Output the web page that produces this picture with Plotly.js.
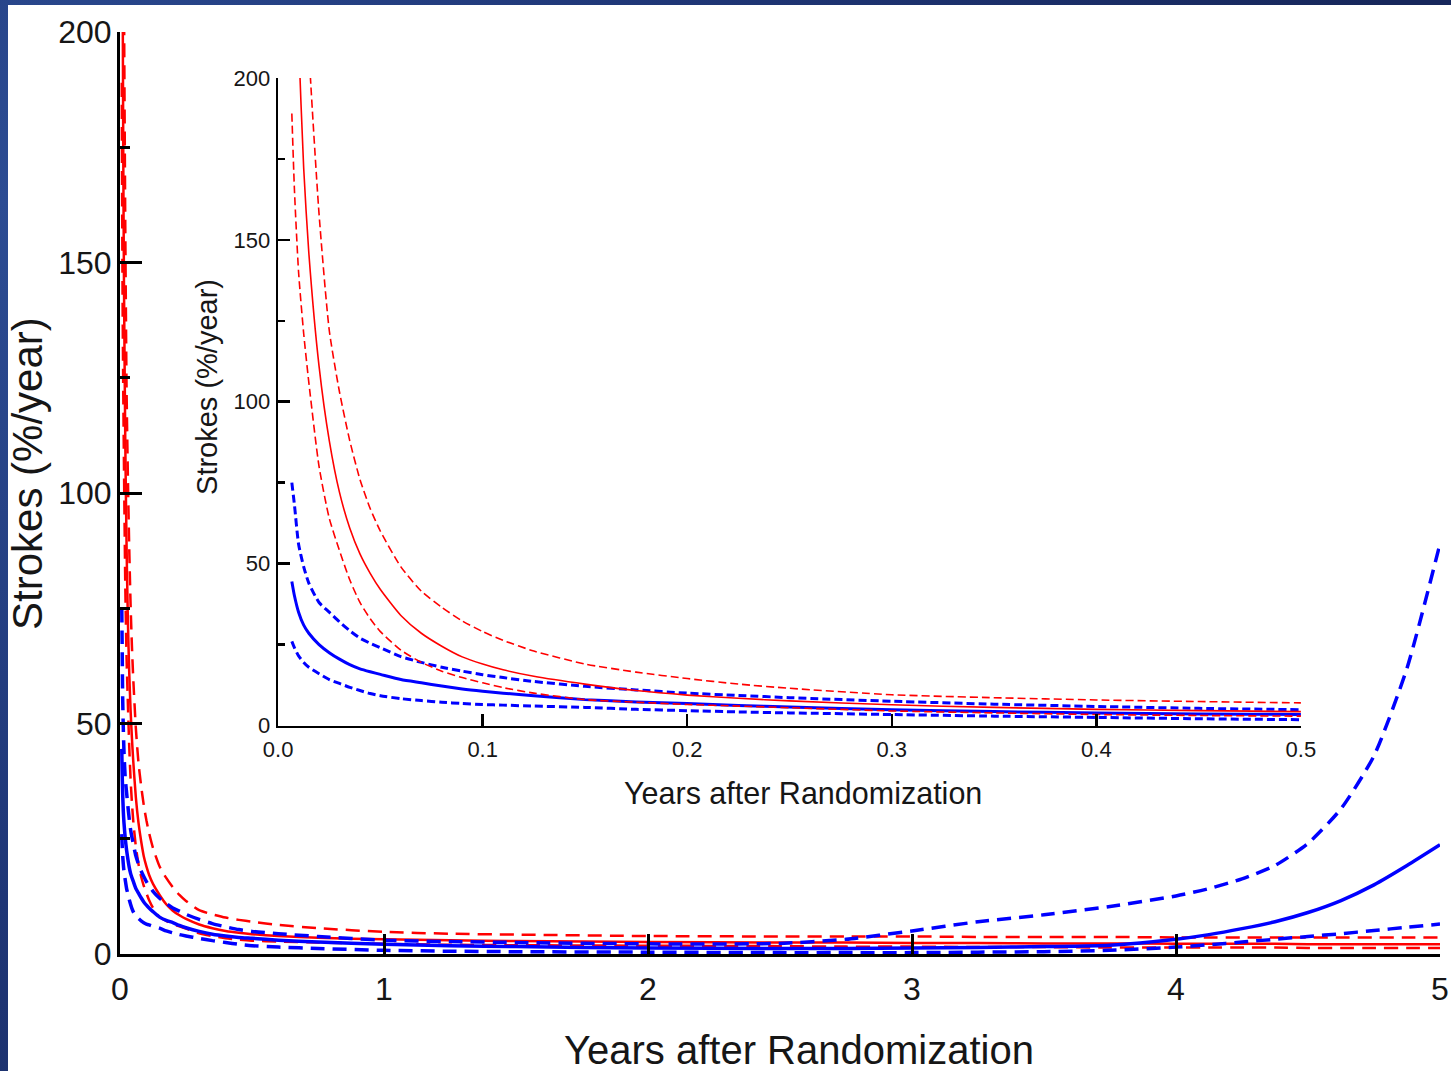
<!DOCTYPE html>
<html>
<head>
<meta charset="utf-8">
<script src="https://cdn.plot.ly/plotly-3.0.1.min.js"></script>
<style>
  html, body { margin: 0; padding: 0; width: 1451px; height: 1071px; overflow: hidden; }
  body { background: radial-gradient(circle at 0px 200px, #2c4c93 0px, #1f3676 700px, #17275b 1400px); position: relative; }
  #sheet { position: absolute; left: 8px; top: 5px; width: 1443px; height: 1066px; background: #ffffff; }
  #chart { position: absolute; left: 0; top: 0; width: 1451px; height: 1071px; }
</style>
</head>
<body>
<div id="sheet"></div>
<div id="chart"></div>
<script>
// Years after randomization (shared by every curve)
const years = [0.0067, 0.008, 0.01, 0.0125, 0.015, 0.02, 0.025, 0.03, 0.035, 0.04, 0.045, 0.05,
  0.06, 0.07, 0.08, 0.09, 0.1, 0.11, 0.125, 0.15, 0.175, 0.2, 0.225, 0.25, 0.3, 0.35, 0.4,
  0.45, 0.5, 0.6, 0.75, 1.0, 1.25, 1.5, 2.0, 2.5, 2.75, 3.0, 3.25, 3.5, 3.75, 4.0, 4.125,
  4.25, 4.375, 4.5, 4.625, 4.75, 4.875, 5.0];

// Red group: hazard estimate and its confidence band (strokes, %/year)
const redRate = [310, 255, 212, 172, 146, 111, 88, 72, 61, 53, 47, 42,
  34, 28.5, 24.5, 21.2, 19, 17.2, 15.2, 12.8, 10.8, 9.4, 8.4, 7.6, 6.4, 5.6, 5.0,
  4.6, 4.3, 3.9, 3.5, 3.2, 3.0, 2.8, 2.6, 2.5, 2.5, 2.4, 2.4, 2.3, 2.3, 2.2, 2.2,
  2.2, 2.2, 2.1, 2.1, 2.1, 2.1, 2.1];
const redUpper = [460, 390, 310, 250, 209, 158, 122, 103, 88, 76, 67, 60,
  49, 41.5, 36.5, 32.3, 29, 26.3, 23, 19, 16.5, 14.5, 12.8, 11.5, 9.5, 8.6, 7.9,
  7.4, 7.0, 6.3, 5.6, 4.8, 4.4, 4.2, 3.9, 3.8, 3.8, 3.8, 3.7, 3.7, 3.7, 3.6, 3.6,
  3.6, 3.6, 3.6, 3.6, 3.6, 3.6, 3.6];
const redLower = [189, 165, 140, 121, 106, 80, 64, 54, 45, 38, 33, 29,
  23.3, 19.5, 16.8, 14.8, 13.2, 11.7, 10, 8, 7.2, 6.5, 6.0, 5.5, 4.5, 3.9, 3.4,
  3.1, 2.9, 2.7, 2.5, 2.2, 2.0, 1.9, 1.8, 1.7, 1.6, 1.6, 1.5, 1.5, 1.4, 1.4, 1.4,
  1.4, 1.4, 1.3, 1.3, 1.3, 1.3, 1.3];

// Blue group: hazard estimate and its confidence band (strokes, %/year)
const blueRate = [44.5, 40, 35, 31, 28.5, 25, 22.5, 20.5, 18.8, 17.5, 16.6, 15.8,
  14.2, 13.2, 12.2, 11.3, 10.6, 10.0, 9.2, 8.0, 7.3, 6.8, 6.2, 5.7, 4.9, 4.3, 3.9,
  3.6, 3.4, 3.0, 2.6, 2.1, 1.8, 1.6, 1.3, 1.2, 1.2, 1.3, 1.4, 1.6, 1.9, 3.2, 4.2,
  5.5, 7.0, 9.0, 11.6, 15.0, 19.2, 23.7];
const blueUpper = [75, 68, 56, 49, 44, 38, 35, 32, 29.3, 27, 25.4, 24,
  21.3, 19.5, 18, 16.8, 15.7, 14.8, 13.6, 12.1, 11.0, 10, 9.3, 8.6, 7.5, 6.6, 5.9,
  5.3, 4.9, 4.4, 3.8, 3.0, 2.7, 2.5, 2.2, 2.3, 3.2, 5.0, 7.0, 8.5, 10.3, 12.6, 14.2,
  16.3, 19.2, 24, 31.5, 43, 62, 89];
const blueLower = [26, 24, 21.5, 19.5, 18, 16, 14.2, 13, 11.8, 10.8, 9.9, 9.2,
  8.3, 7.7, 7.2, 6.8, 6.5, 6.3, 6.0, 5.6, 5.0, 4.6, 4.2, 3.9, 3.4, 2.9, 2.5,
  2.1, 1.8, 1.5, 1.2, 0.8, 0.6, 0.5, 0.4, 0.3, 0.3, 0.3, 0.4, 0.5, 0.8, 1.5, 2.0,
  2.6, 3.2, 3.8, 4.4, 5.1, 5.8, 6.5];

// Axis tick values
const mainXTicks = [0, 1, 2, 3, 4, 5];
const insetXTicks = [0, 0.1, 0.2, 0.3, 0.4, 0.5];
const rateTicks = [0, 50, 100, 150, 200];

const RED = '#ff0000';
const BLUE = '#0000ff';
const FONT = '"Liberation Sans", Arial, Helvetica, sans-serif';
const INK = '#161616';

function curve(y, color, width, dash, xa, ya) {
  return {
    x: years, y: y, xaxis: xa, yaxis: ya,
    type: 'scatter', mode: 'lines', hoverinfo: 'skip', showlegend: false,
    line: { color: color, width: width, dash: dash, shape: 'spline', smoothing: 0.6 }
  };
}

const mainDash = '14px,8px';
const insetDash = '8px,4px';

const traces = [
  // full five-year view
  curve(redUpper, RED, 2.5, mainDash, 'x', 'y'),
  curve(redLower, RED, 2.5, mainDash, 'x', 'y'),
  curve(redRate, RED, 2.5, 'solid', 'x', 'y'),
  curve(blueUpper, BLUE, 3.5, mainDash, 'x', 'y'),
  curve(blueLower, BLUE, 3.5, mainDash, 'x', 'y'),
  curve(blueRate, BLUE, 3.5, 'solid', 'x', 'y'),
  // first six months, enlarged
  curve(blueUpper, BLUE, 3, insetDash, 'x2', 'y2'),
  curve(blueLower, BLUE, 3, insetDash, 'x2', 'y2'),
  curve(blueRate, BLUE, 3, 'solid', 'x2', 'y2'),
  curve(redUpper, RED, 1.6, insetDash, 'x2', 'y2'),
  curve(redLower, RED, 1.6, insetDash, 'x2', 'y2'),
  curve(redRate, RED, 1.6, 'solid', 'x2', 'y2')
];

function label(text, x, y, size, angle) {
  return {
    text: text, showarrow: false, xref: 'paper', yref: 'paper', x: x, y: y,
    xanchor: 'center', yanchor: 'middle', textangle: angle || 0,
    font: { size: size, family: FONT, color: INK }
  };
}

const layout = {
  width: 1451, height: 1071,
  margin: { l: 120, r: 11, t: 32, b: 117 },
  paper_bgcolor: 'rgba(0,0,0,0)',
  plot_bgcolor: 'rgba(0,0,0,0)',
  font: { family: FONT, color: INK },
  showlegend: false,
  xaxis: {
    domain: [0, 1], anchor: 'y',
    range: [0, 5], tickvals: mainXTicks, ticktext: mainXTicks.map(String),
    ticks: 'inside', ticklen: 20, tickwidth: 3, tickcolor: '#000',
    showline: true, linewidth: 3, linecolor: '#000',
    showgrid: false, zeroline: false,
    tickfont: { size: 32, family: FONT, color: INK },
    ticklabelstandoff: 5
  },
  yaxis: {
    domain: [0, 1], anchor: 'x',
    range: [0, 200], tickvals: rateTicks, ticktext: rateTicks.map(String),
    ticks: 'inside', ticklen: 22, tickwidth: 3, tickcolor: '#000',
    minor: { dtick: 25, tick0: 0, ticks: 'inside', ticklen: 10, tickwidth: 3, tickcolor: '#000' },
    showline: true, linewidth: 3, linecolor: '#000',
    showgrid: false, zeroline: false,
    tickfont: { size: 32, family: FONT, color: INK },
    ticklabelstandoff: -1
  },
  xaxis2: {
    domain: [0.1198, 0.8946], anchor: 'y2',
    range: [0, 0.5], tickvals: insetXTicks, ticktext: insetXTicks.map(v => v.toFixed(1)),
    ticks: 'inside', ticklen: 12, tickwidth: 2.5, tickcolor: '#000',
    showline: true, linewidth: 2.5, linecolor: '#000',
    showgrid: false, zeroline: false,
    tickfont: { size: 22, family: FONT, color: INK },
    ticklabelstandoff: 3
  },
  yaxis2: {
    domain: [0.2478, 0.9502], anchor: 'x2',
    range: [0, 200], tickvals: rateTicks, ticktext: rateTicks.map(String),
    ticks: 'inside', ticklen: 12, tickwidth: 2.5, tickcolor: '#000',
    minor: { dtick: 25, tick0: 0, ticks: 'inside', ticklen: 7, tickwidth: 2.5, tickcolor: '#000' },
    showline: true, linewidth: 2.5, linecolor: '#000',
    showgrid: false, zeroline: false,
    tickfont: { size: 22, family: FONT, color: INK },
    ticklabelstandoff: 1
  },
  annotations: [
    // axis titles of the five-year view
    label('Years after Randomization', 0.5144, -0.1041, 40),
    label('Strokes (%/year)', -0.0697, 0.5217, 42, -90),
    // axis titles of the six-month inset
    label('Years after Randomization', 0.5174, 0.1746, 30.5),
    label('Strokes (%/year)', 0.0659, 0.6150, 29, -90)
  ]
};

Plotly.newPlot('chart', traces, layout, { displayModeBar: false, staticPlot: true });
</script>
</body>
</html>
